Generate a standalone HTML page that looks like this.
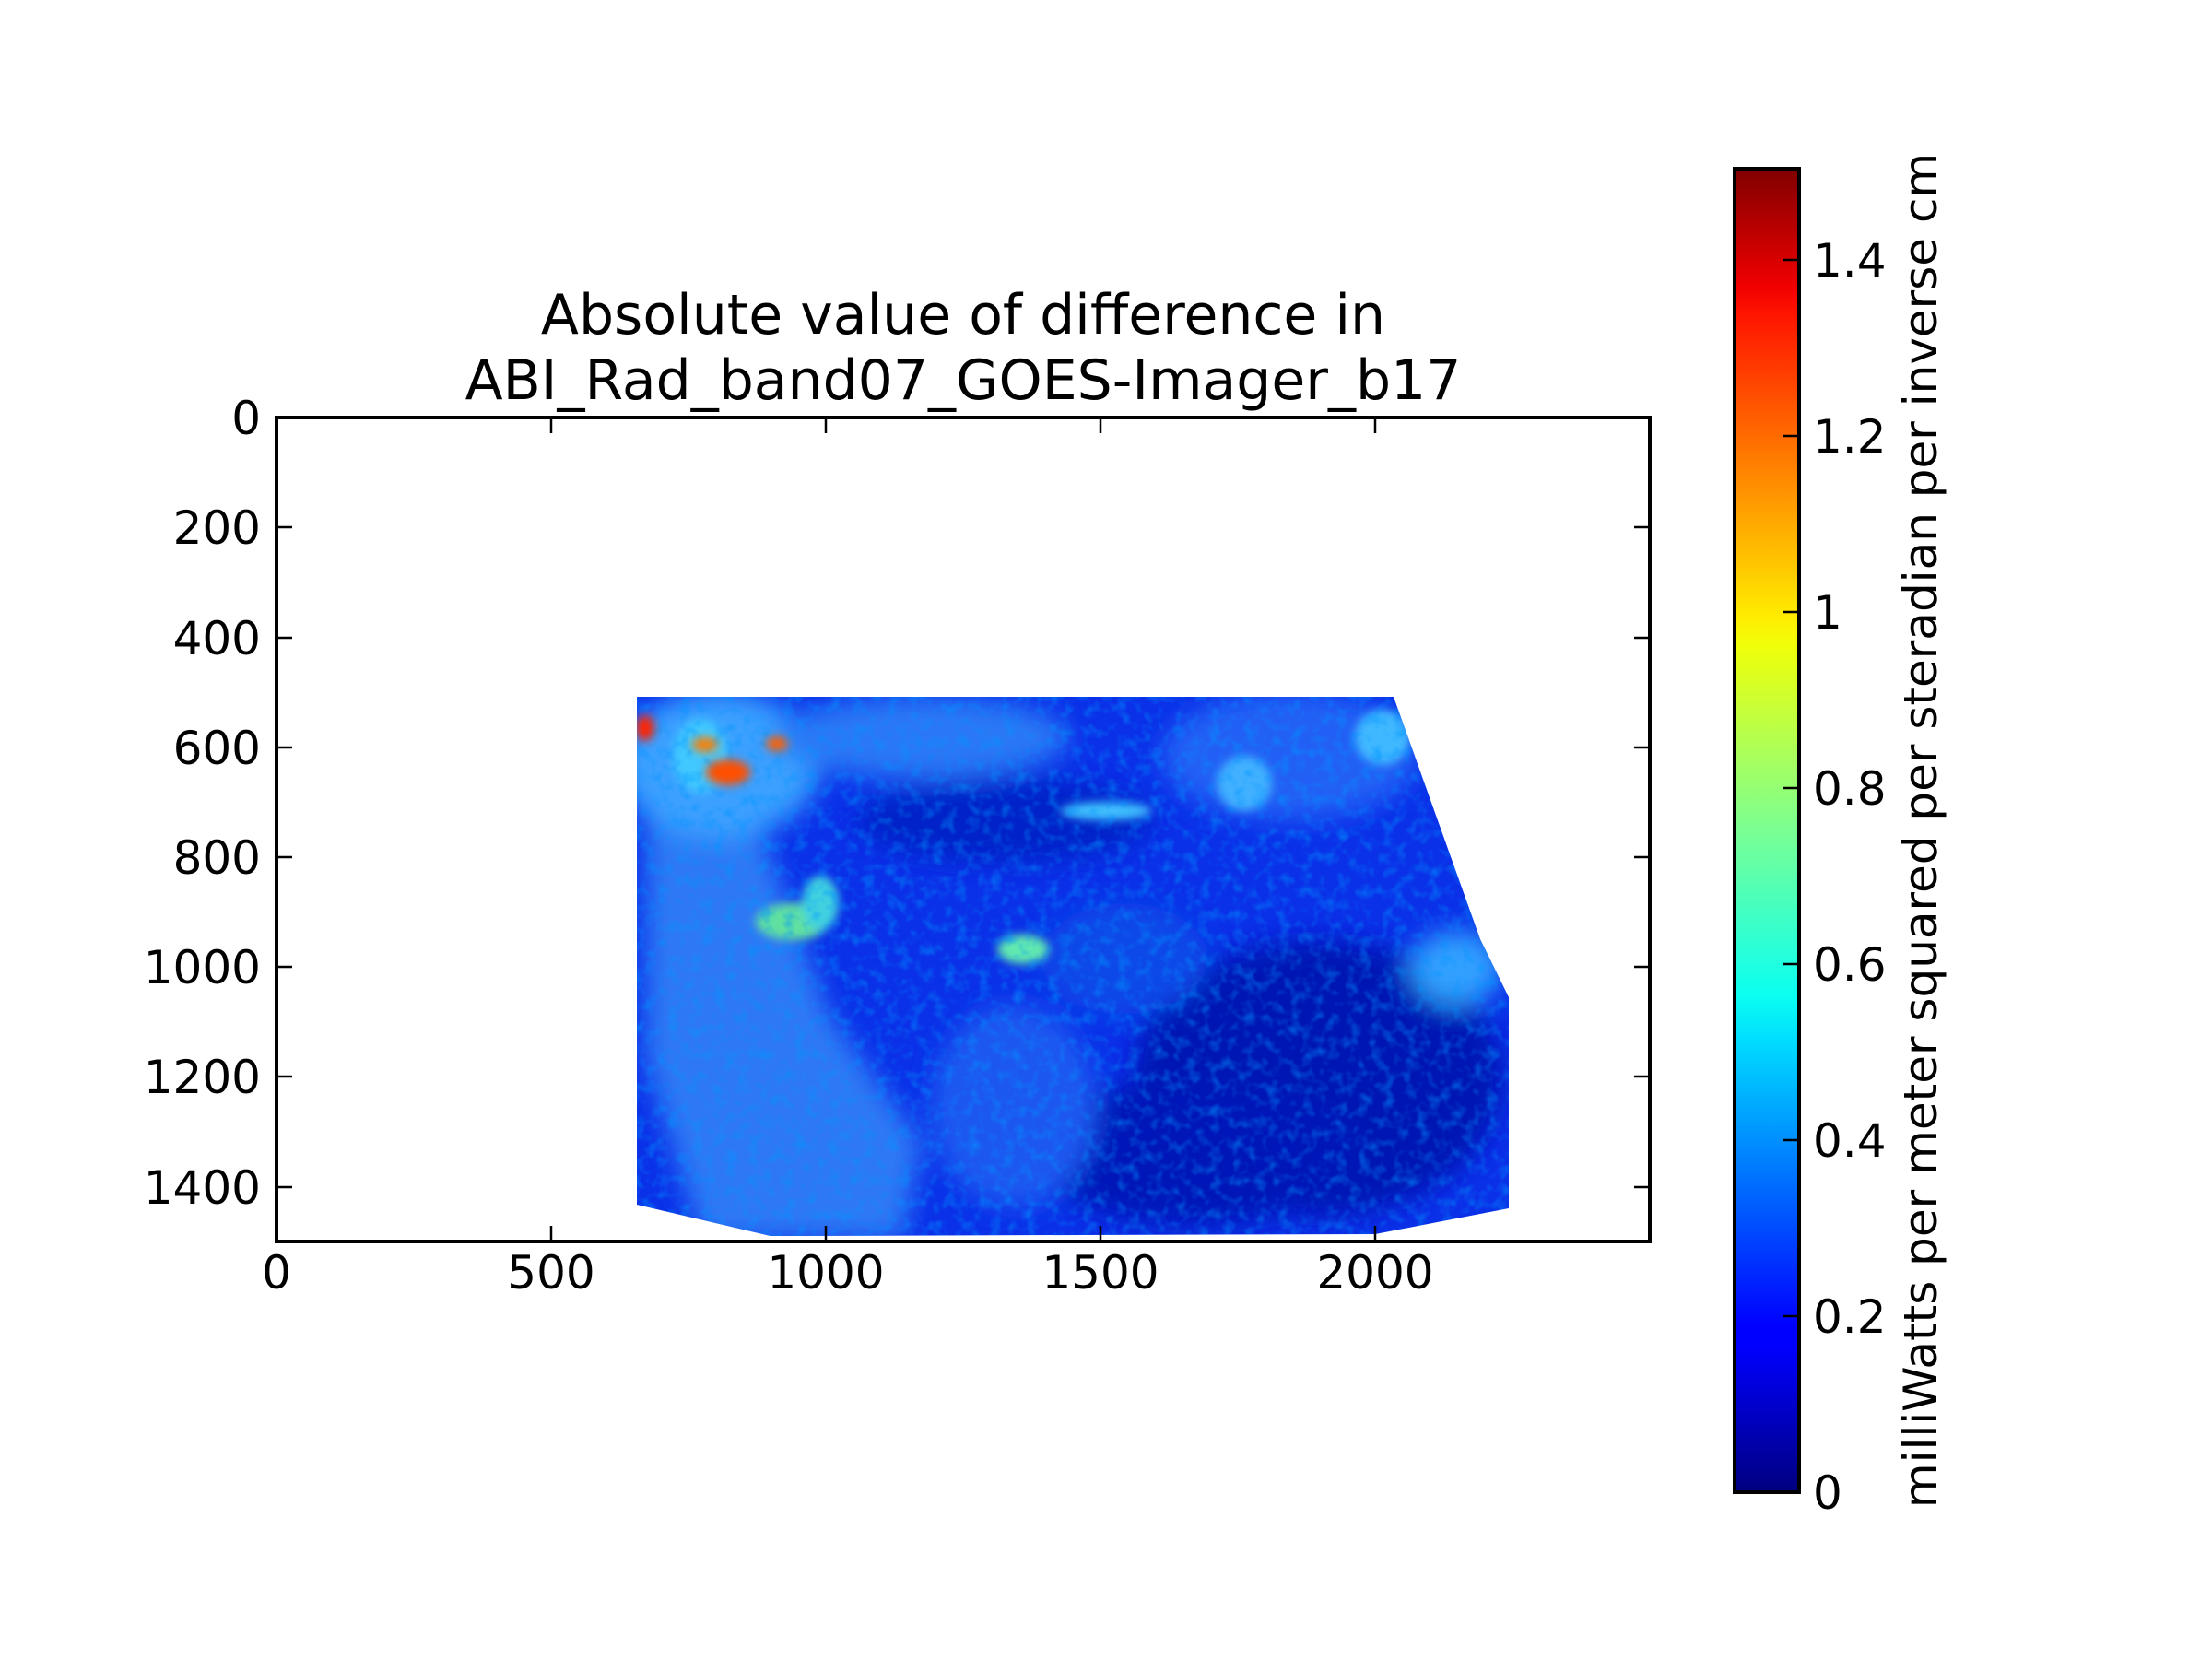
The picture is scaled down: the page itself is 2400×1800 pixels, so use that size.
<!DOCTYPE html>
<html><head><meta charset="utf-8"><style>
html,body{margin:0;padding:0;background:#fff;}
svg{display:block;}
text{font-family:"DejaVu Sans","Liberation Sans",sans-serif;fill:#000;}
</style></head><body>
<svg width="2400" height="1800" viewBox="0 0 2400 1800" xmlns="http://www.w3.org/2000/svg">
<defs>
<clipPath id="dc"><polygon points="691,756 1512,756 1606,1019 1637,1082 1637,1311 1492,1339 836,1341 691,1307"/></clipPath>
<filter id="b1" x="-50%" y="-50%" width="200%" height="200%"><feGaussianBlur stdDeviation="14"/></filter>
<filter id="b2" x="-50%" y="-50%" width="200%" height="200%"><feGaussianBlur stdDeviation="5"/></filter>
<filter id="noise"><feTurbulence type="fractalNoise" baseFrequency="0.08" numOctaves="2" seed="3"/><feColorMatrix type="matrix" values="0 0 0 0 0  0 0 0 0 0.3  0 0 0 0 1  0 0 0 1.2 -0.55"/></filter>
<linearGradient id="jet" x1="0" y1="1" x2="0" y2="0">
<stop offset="0" stop-color="#000080"/><stop offset="0.11" stop-color="#0000ff"/><stop offset="0.125" stop-color="#0000ff"/>
<stop offset="0.34" stop-color="#00dbff"/><stop offset="0.375" stop-color="#0afff2"/><stop offset="0.5" stop-color="#7aff93"/>
<stop offset="0.64" stop-color="#f0ff08"/><stop offset="0.66" stop-color="#ffed00"/><stop offset="0.89" stop-color="#ff1400"/>
<stop offset="0.91" stop-color="#f20000"/><stop offset="1" stop-color="#800000"/></linearGradient>
</defs>

<g clip-path="url(#dc)">
<rect x="680" y="740" width="970" height="610" fill="#0a30e8"/>
<g filter="url(#b1)">
<polygon points="700,850 800,830 900,1100 1000,1240 980,1345 760,1345 700,1150" fill="#2f78f5"/>
<ellipse cx="780" cy="830" rx="110" ry="80" fill="#3aa0ff"/>
<ellipse cx="1000" cy="800" rx="160" ry="45" fill="#2a78f5"/>
<ellipse cx="1400" cy="820" rx="140" ry="70" fill="#2060f5"/>
<ellipse cx="1430" cy="1170" rx="200" ry="150" fill="#0014b4"/>
<ellipse cx="1300" cy="1250" rx="180" ry="80" fill="#0018b8"/>
<ellipse cx="1090" cy="890" rx="160" ry="45" fill="#0020c8"/>
<ellipse cx="1220" cy="1040" rx="90" ry="60" fill="#1048e8"/>
<ellipse cx="1580" cy="1050" rx="50" ry="40" fill="#30a0ff"/>
<ellipse cx="1100" cy="1200" rx="90" ry="110" fill="#1a58f0"/>
</g>
<g filter="url(#b2)">
<ellipse cx="860" cy="1000" rx="40" ry="20" fill="#60e0a0"/>
<ellipse cx="1110" cy="1030" rx="28" ry="16" fill="#60e8b0"/>
<ellipse cx="890" cy="980" rx="20" ry="30" fill="#40d0e0"/>
<ellipse cx="760" cy="820" rx="30" ry="40" fill="#40c8ff"/>
<ellipse cx="1200" cy="880" rx="50" ry="10" fill="#40c0ff"/>
<ellipse cx="1350" cy="850" rx="30" ry="30" fill="#40b0ff"/>
<ellipse cx="1500" cy="800" rx="30" ry="30" fill="#40b8ff"/>
</g>
<rect x="680" y="740" width="970" height="610" filter="url(#noise)"/>
<g filter="url(#b2)">
<ellipse cx="700" cy="790" rx="10" ry="14" fill="#ff2000"/>
<ellipse cx="790" cy="838" rx="24" ry="14" fill="#ff5000"/>
<ellipse cx="765" cy="808" rx="14" ry="8" fill="#ff8000"/>
<ellipse cx="843" cy="807" rx="12" ry="8" fill="#ff6000"/>
</g>
</g>

<rect x="300" y="453" width="1490" height="894" fill="none" stroke="#000" stroke-width="4"/>
<g stroke="#000" stroke-width="2.5">
<line x1="598" y1="455" x2="598" y2="470"/><line x1="896" y1="455" x2="896" y2="470"/><line x1="1194" y1="455" x2="1194" y2="470"/><line x1="1492" y1="455" x2="1492" y2="470"/>
<line x1="598" y1="1345" x2="598" y2="1330"/><line x1="896" y1="1345" x2="896" y2="1330"/><line x1="1194" y1="1345" x2="1194" y2="1330"/><line x1="1492" y1="1345" x2="1492" y2="1330"/>
<line x1="302" y1="572" x2="317" y2="572"/><line x1="302" y1="692" x2="317" y2="692"/><line x1="302" y1="811" x2="317" y2="811"/><line x1="302" y1="930" x2="317" y2="930"/><line x1="302" y1="1049" x2="317" y2="1049"/><line x1="302" y1="1168" x2="317" y2="1168"/><line x1="302" y1="1288" x2="317" y2="1288"/>
<line x1="1788" y1="572" x2="1773" y2="572"/><line x1="1788" y1="692" x2="1773" y2="692"/><line x1="1788" y1="811" x2="1773" y2="811"/><line x1="1788" y1="930" x2="1773" y2="930"/><line x1="1788" y1="1049" x2="1773" y2="1049"/><line x1="1788" y1="1168" x2="1773" y2="1168"/><line x1="1788" y1="1288" x2="1773" y2="1288"/>
</g>
<g font-size="50" text-anchor="end">
<text x="283" y="471">0</text><text x="283" y="590">200</text><text x="283" y="710">400</text><text x="283" y="829">600</text><text x="283" y="948">800</text><text x="283" y="1067">1000</text><text x="283" y="1186">1200</text><text x="283" y="1306">1400</text>
</g>
<g font-size="50" text-anchor="middle">
<text x="300" y="1398">0</text><text x="598" y="1398">500</text><text x="896" y="1398">1000</text><text x="1194" y="1398">1500</text><text x="1492" y="1398">2000</text>
</g>
<g font-size="60" text-anchor="middle">
<text x="1045" y="362">Absolute value of difference in</text>
<text x="1045" y="433">ABI_Rad_band07_GOES-Imager_b17</text>
</g>

<rect x="1882" y="183" width="70" height="1436" fill="url(#jet)" stroke="#000" stroke-width="4"/>
<g stroke="#000" stroke-width="2.5">
<line x1="1950" y1="1428" x2="1935" y2="1428"/><line x1="1950" y1="1237" x2="1935" y2="1237"/><line x1="1950" y1="1046" x2="1935" y2="1046"/><line x1="1950" y1="855" x2="1935" y2="855"/><line x1="1950" y1="664" x2="1935" y2="664"/><line x1="1950" y1="473" x2="1935" y2="473"/><line x1="1950" y1="282" x2="1935" y2="282"/>
</g>
<g font-size="50">
<text x="1967" y="1637">0</text><text x="1967" y="1446">0.2</text><text x="1967" y="1255">0.4</text><text x="1967" y="1064">0.6</text><text x="1967" y="873">0.8</text><text x="1967" y="682">1</text><text x="1967" y="491">1.2</text><text x="1967" y="300">1.4</text>
</g>
<text font-size="50" text-anchor="middle" transform="translate(2101,901) rotate(-90)">milliWatts per meter squared per steradian per inverse cm</text>
</svg>
</body></html>
